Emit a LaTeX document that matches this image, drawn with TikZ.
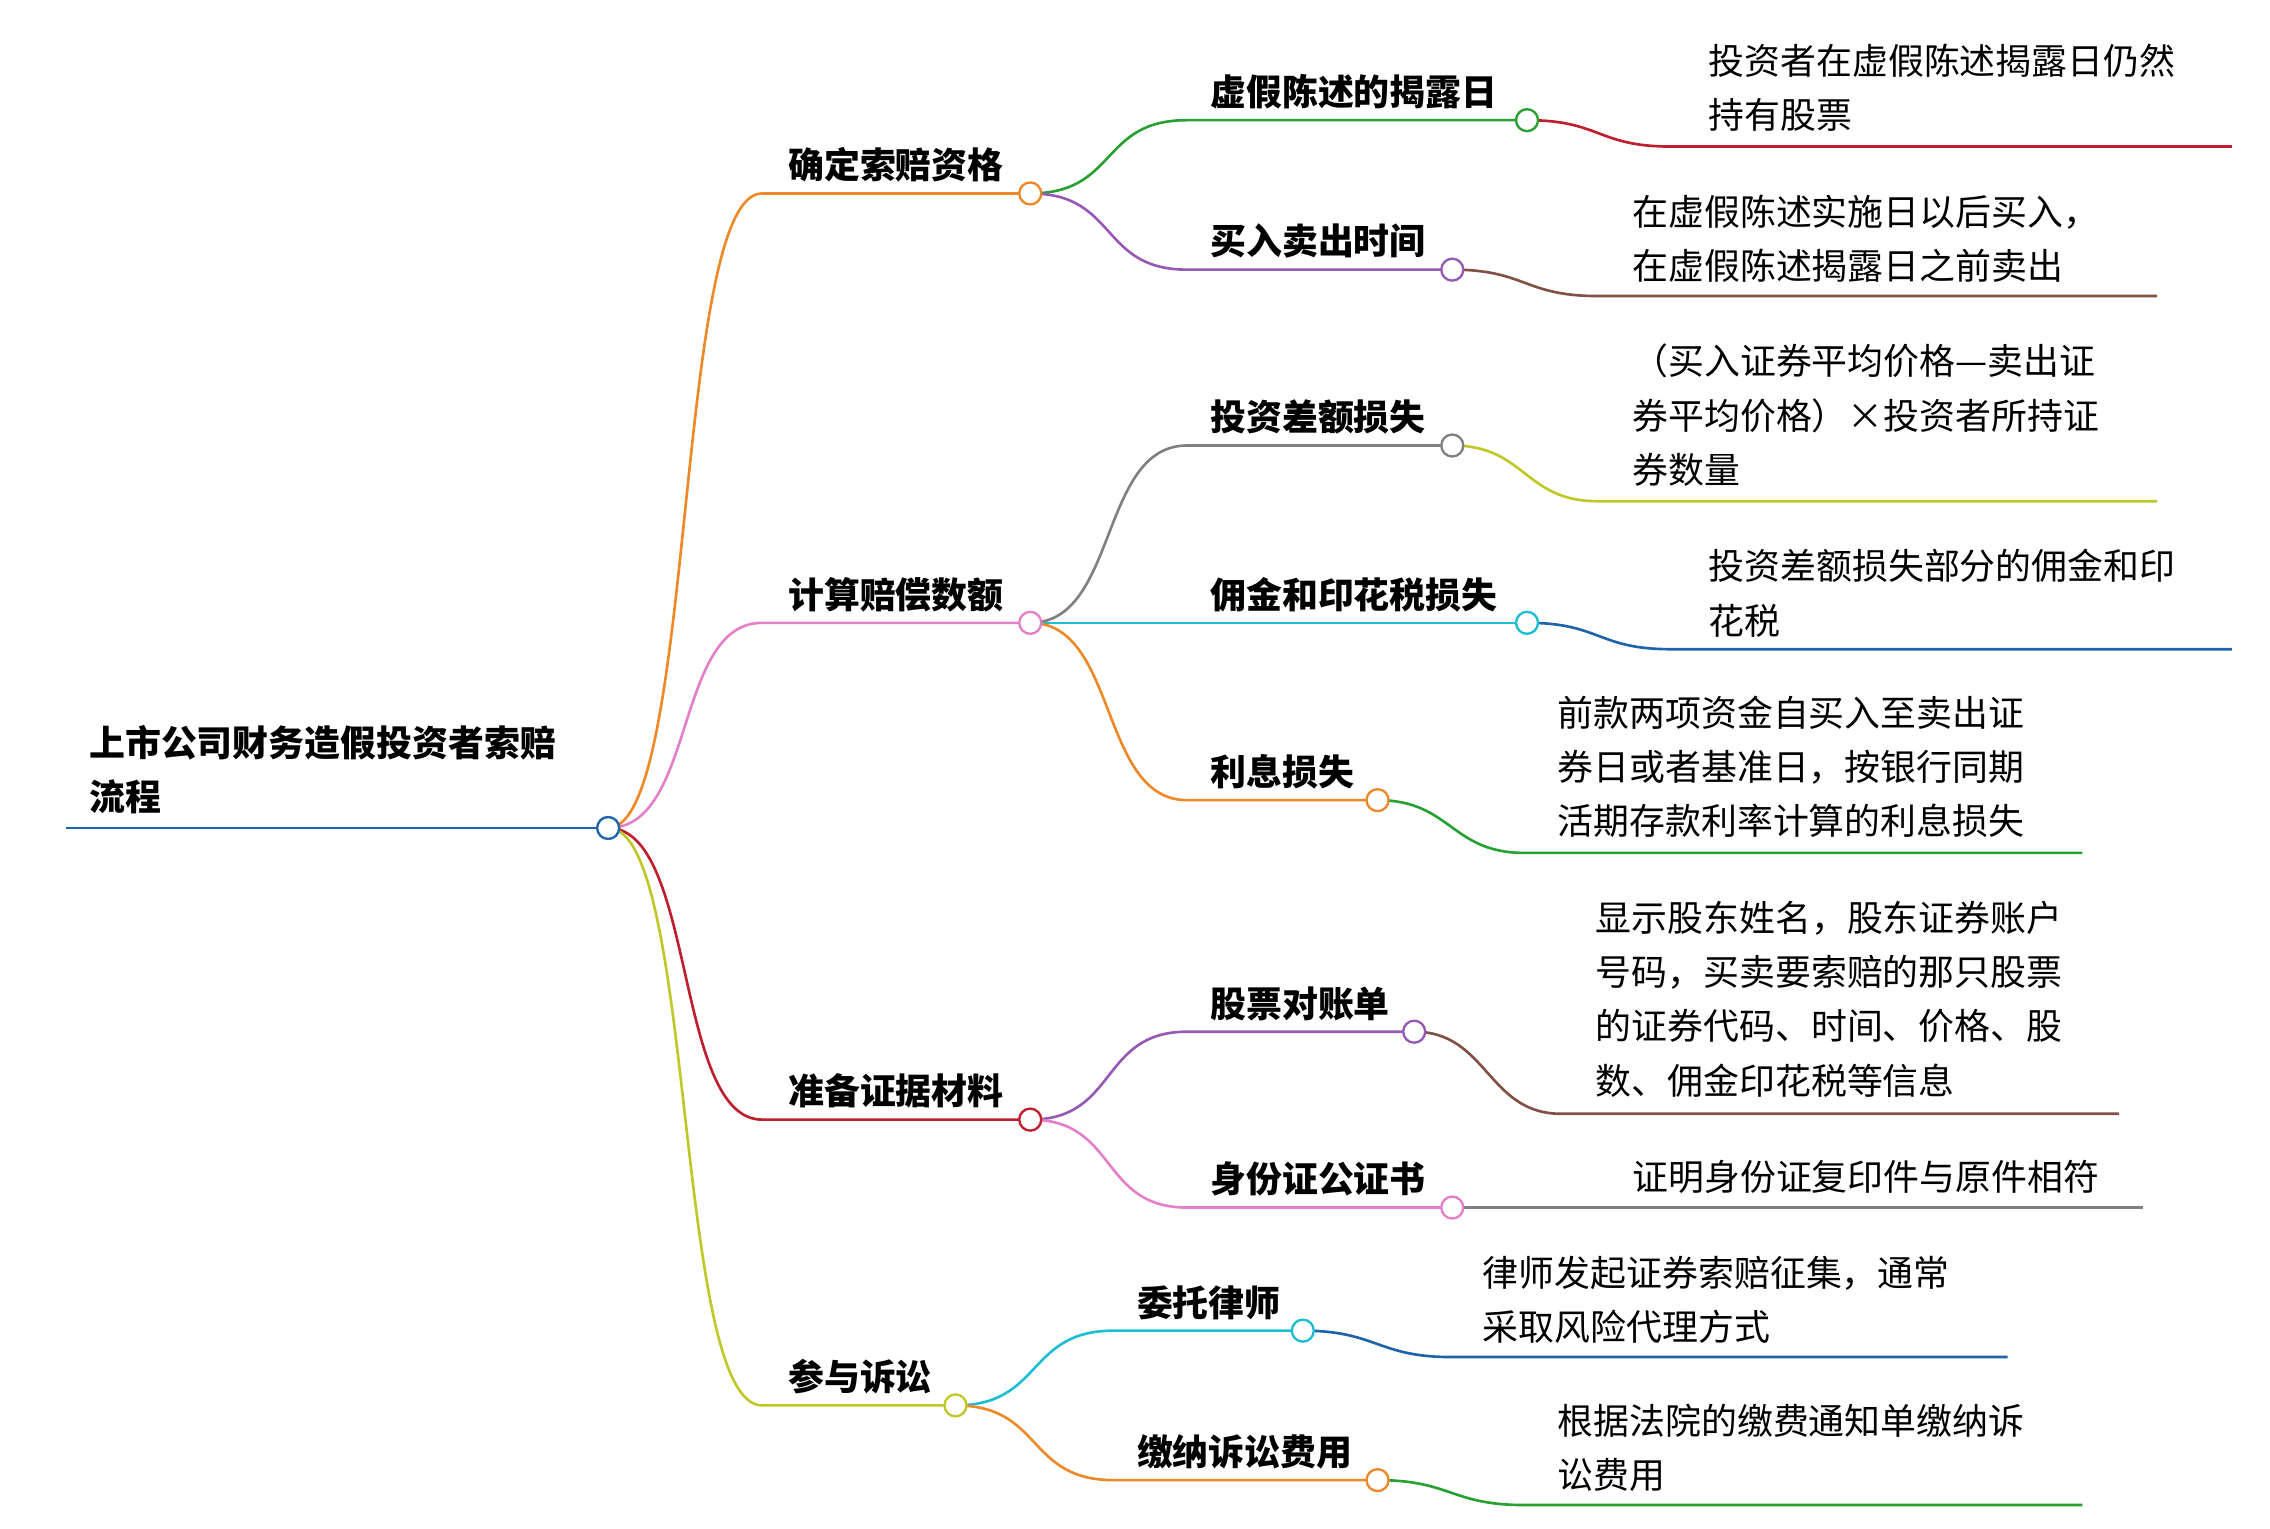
\documentclass[tikz,border=0pt]{standalone}
\usepackage{fontspec}
\setmainfont{Noto Sans CJK SC}
\usetikzlibrary{calc}
\begin{document}
\begin{tikzpicture}[x=1pt,y=-1pt,line width=1.8pt,
  lbl/.style={anchor=base west,inner sep=0pt,font=\fontsize{24.5}{37}\selectfont\bfseries,align=left},
  leaf/.style={anchor=north west,inner sep=0pt,font=\fontsize{24.5}{37}\selectfont,align=left},
  dot/.style={circle,fill=white,inner sep=0pt,minimum size=15pt,line width=1.6pt}]
\definecolor{orng}{RGB}{237,137,40}
\definecolor{pinkc}{RGB}{228,128,200}
\definecolor{redc}{RGB}{190,30,45}
\definecolor{ygreen}{RGB}{190,200,40}
\definecolor{greenc}{RGB}{40,160,50}
\definecolor{purp}{RGB}{150,90,180}
\definecolor{grayc}{RGB}{128,128,128}
\definecolor{cyanc}{RGB}{30,190,210}
\definecolor{bluec}{RGB}{30,100,170}
\definecolor{brownc}{RGB}{130,80,70}
\useasboundingbox (0,0) rectangle (1549,1043);
% root
\node[leaf,font=\fontsize{24.5}{37}\selectfont\bfseries] (root) at (60,494) {上市公司财务造假投资者索赔\\流程};
\coordinate (r0) at (45,565);
\coordinate (rc) at (415,565);
\draw[bluec] (r0) -- (rc);
\newcommand\branch[8]{% color, parentcoord, startx, y, endx, name, label, labelx
  \coordinate (#6s) at (#3,#4);
  \coordinate (#6e) at (#5,#4);
  \draw[#1] (#2) .. controls +(60,0) and +(-60,0) .. (#6s) -- (#6e);
  \node[lbl] (#6) at (#8,#4-10) {#7};
}
\newcommand\leaf[6]{% color, parent, liney, startx, endx, name
  \coordinate (#6s) at (#4,#3);
  \coordinate (#6e) at (#5,#3);
  \draw[#1] (#2) .. controls +(50,0) and +(-50,0) .. (#6s) -- (#6e);
}
% level 1
\branch{orng}{rc}{520}{132}{703}{a}{确定索赔资格}{537}
\branch{pinkc}{rc}{520}{425}{703}{b}{计算赔偿数额}{537}
\branch{redc}{rc}{520}{764}{703}{c}{准备证据材料}{537}
\branch{ygreen}{rc}{520}{959}{652}{d}{参与诉讼}{537}
% level 2
\branch{greenc}{ae}{810}{82}{1042}{a1}{虚假陈述的揭露日}{825}
\branch{purp}{ae}{810}{184}{991}{a2}{买入卖出时间}{825}
\branch{grayc}{be}{810}{304}{991}{b1}{投资差额损失}{825}
\branch{cyanc}{be}{810}{425}{1042}{b2}{佣金和印花税损失}{825}
\branch{orng}{be}{810}{546}{940}{b3}{利息损失}{825}
\branch{purp}{ce}{810}{704}{965}{c1}{股票对账单}{825}
\branch{pinkc}{ce}{810}{824}{991}{c2}{身份证公证书}{825}
\branch{cyanc}{de}{760}{908}{889}{d1}{委托律师}{775}
\branch{orng}{de}{760}{1010}{940}{d2}{缴纳诉讼费用}{775}
% leaves
\leaf{redc}{a1e}{100}{1140}{1523}{x1}
\node[leaf] (t1) at (1165,29) {投资者在虚假陈述揭露日仍然\\持有股票};
\leaf{brownc}{a2e}{202}{1090}{1472}{x2}
\node[leaf] (t2) at (1113,132) {在虚假陈述实施日以后买入，\\在虚假陈述揭露日之前卖出};
\leaf{ygreen}{b1e}{342}{1090}{1472}{x3}
\node[leaf] (t3) at (1113,234) {（买入证券平均价格—卖出证\\券平均价格）×投资者所持证\\券数量};
\leaf{bluec}{b2e}{443}{1140}{1523}{x4}
\node[leaf] (t4) at (1165,374) {投资差额损失部分的佣金和印\\花税};
\leaf{greenc}{b3e}{582}{1040}{1421}{x5}
\node[leaf] (t5) at (1062,474) {前款两项资金自买入至卖出证\\券日或者基准日，按银行同期\\活期存款利率计算的利息损失};
\leaf{brownc}{c1e}{760}{1065}{1446}{x6}
\node[leaf] (t6) at (1088,614) {显示股东姓名，股东证券账户\\号码，买卖要索赔的那只股票\\的证券代码、时间、价格、股\\数、佣金印花税等信息};
\leaf{grayc}{c2e}{824}{1090}{1462}{x7}
\node[leaf] (t7) at (1113,791) {证明身份证复印件与原件相符};
\leaf{bluec}{d1e}{926}{990}{1370}{x8}
\node[leaf] (t8) at (1011,856) {律师发起证券索赔征集，通常\\采取风险代理方式};
\leaf{greenc}{d2e}{1027}{1040}{1421}{x9}
\node[leaf] (t9) at (1062,957) {根据法院的缴费通知单缴纳诉\\讼费用};
% dots
\node[dot,draw=bluec] (drc) at (rc) {};
\node[dot,draw=orng] (da) at (ae) {};
\node[dot,draw=pinkc] (db) at (be) {};
\node[dot,draw=redc] (dc) at (ce) {};
\node[dot,draw=ygreen] (dd) at (de) {};
\node[dot,draw=greenc] (da1) at (a1e) {};
\node[dot,draw=purp] (da2) at (a2e) {};
\node[dot,draw=grayc] (db1) at (b1e) {};
\node[dot,draw=cyanc] (db2) at (b2e) {};
\node[dot,draw=orng] (db3) at (b3e) {};
\node[dot,draw=purp] (dc1) at (c1e) {};
\node[dot,draw=pinkc] (dc2) at (c2e) {};
\node[dot,draw=cyanc] (dd1) at (d1e) {};
\node[dot,draw=orng] (dd2) at (d2e) {};
\end{tikzpicture}
\end{document}
